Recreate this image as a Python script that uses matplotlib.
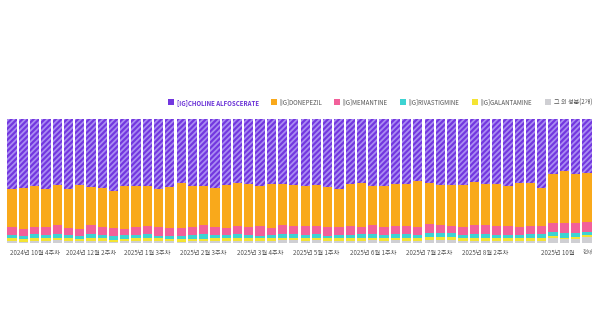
import matplotlib
matplotlib.use("Agg")
import matplotlib.pyplot as plt
from matplotlib.patches import Rectangle
import numpy as np

plt.rcParams['font.family'] = ['Noto Sans CJK KR', 'DejaVu Sans']
plt.rcParams['hatch.linewidth'] = 1.3

series_names = ["[IG]CHOLINE ALFOSCERATE", "[IG]DONEPEZIL", "[IG]MEMANTINE",
                "[IG]RIVASTIGMINE", "[IG]GALANTAMINE", "그 외 성분(2개)"]
colors = ["#7236DF", "#F9A91B", "#F2609A", "#3DD3D2", "#F4E433", "#CFCFD3"]

choline = [56.3, 55.8, 53.7, 56.3, 53.1, 56.3, 53.1, 54.7, 55.3, 57.7, 53.7, 53.7, 53.7,
           56.3, 54.7, 51.5, 53.7, 53.9, 55.5, 53.1, 51.5, 52.3, 53.9, 52.3, 52.3, 53.1,
           53.9, 53.1, 54.7, 56.3, 52.3, 51.5, 53.9, 53.9, 52.3, 52.3, 49.9, 51.7, 53.1,
           53.1, 52.9, 50.7, 52.1, 52.5, 53.7, 51.3, 51.7, 55.3, 44.0, 41.8, 44.5, 43.2]
donepezil = [31.0, 32.7, 33.1, 30.5, 32.3, 31.3, 35.3, 31.0, 32.0, 30.2, 34.8, 33.4, 32.6,
             30.7, 32.9, 36.1, 33.1, 31.5, 31.3, 34.5, 34.5, 34.5, 32.1, 35.3, 33.1, 33.1,
             32.7, 33.1, 32.3, 30.7, 34.0, 35.2, 31.5, 33.1, 34.0, 34.0, 36.9, 32.9, 32.6,
             33.1, 34.4, 34.8, 33.4, 33.7, 32.6, 35.6, 34.5, 31.0, 39.9, 42.0, 39.6, 39.6]
memantine = [6.2, 6.1, 6.1, 6.7, 7.0, 5.9, 5.9, 7.3, 6.2, 6.2, 5.1, 6.5, 6.7,
             7.0, 6.7, 6.5, 6.7, 7.3, 6.7, 5.9, 6.7, 6.7, 8.1, 5.9, 7.3, 6.7,
             6.8, 6.2, 7.0, 6.5, 7.2, 6.0, 7.5, 6.3, 6.8, 6.7, 6.7, 7.5, 6.5,
             5.9, 6.2, 7.3, 7.3, 7.5, 7.3, 6.5, 6.7, 6.5, 7.3, 8.3, 8.1, 8.1]
rivastigmine = [2.7, 2.2, 3.2, 2.7, 3.2, 2.7, 2.2, 3.2, 2.7, 3.2, 3.2, 2.7, 3.2,
                2.2, 2.2, 2.7, 3.2, 3.8, 2.7, 2.7, 3.2, 2.7, 2.2, 2.7, 3.2, 2.7,
                2.7, 3.2, 2.2, 2.7, 2.7, 3.2, 2.7, 2.7, 2.7, 3.0, 2.5, 3.2, 3.0,
                3.0, 2.7, 3.2, 3.0, 2.5, 2.7, 2.7, 3.0, 3.0, 3.5, 3.5, 3.2, 3.0]
galantamine = [2.2, 2.0, 2.2, 2.2, 2.0, 2.2, 2.0, 2.2, 2.2, 1.5, 1.8, 2.2, 2.2,
               2.2, 2.0, 2.0, 2.0, 2.0, 2.2, 2.2, 2.2, 2.2, 2.0, 2.2, 2.0, 2.2,
               2.2, 2.2, 2.0, 2.0, 2.0, 2.2, 2.2, 2.2, 2.0, 2.2, 2.2, 2.2, 2.2,
               2.2, 2.0, 2.2, 2.2, 2.0, 2.2, 2.0, 2.2, 2.2, 1.6, 1.3, 1.5, 1.5]
others = [1.6, 1.2, 1.7, 1.6, 2.4, 1.6, 1.5, 1.6, 1.6, 1.2, 1.4, 1.5, 1.6,
          1.6, 1.5, 1.2, 1.3, 1.5, 1.6, 1.6, 1.9, 1.6, 1.7, 1.6, 2.1, 2.2,
          1.7, 2.2, 1.8, 1.8, 1.8, 1.9, 2.2, 1.8, 2.2, 1.8, 1.8, 2.5, 2.6,
          2.7, 1.8, 1.8, 2.0, 1.8, 1.5, 1.9, 1.9, 2.0, 3.7, 3.1, 3.1, 4.6]

tick_idx = [2, 7, 12, 17, 22, 27, 32, 37, 42, 48.4]
tick_labels = ["2024년 10월 4주차", "2024년 12월 2주차", "2025년 1월 3주차", "2025년 2월 3주차",
               "2025년 3월 4주차", "2025년 5월 1주차", "2025년 6월 1주차", "2025년 7월 2주차",
               "2025년 8월 2주차", "2025년 10월"]
current_label = "현재"

data = np.array([choline, donepezil, memantine, rivastigmine, galantamine, others])
data = data / data.sum(axis=0) * 100
n = data.shape[1]
x = np.arange(n)

fig = plt.figure(figsize=(6, 3.36), dpi=100)
W, H = 600, 336
ax = fig.add_axes([7 / W, 1 - 243 / H, 585 / W, (243 - 119.3) / H])

bottom = np.zeros(n)
order = list(range(data.shape[0]))[::-1]
for i in order:
    vals = data[i]
    if i == 0:
        ax.bar(x, vals, bottom=bottom, width=0.82, color=colors[0], edgecolor="#A98BF2",
               hatch="//////", linewidth=0)
    else:
        ax.bar(x, vals, bottom=bottom, width=0.82, color=colors[i], linewidth=0)
    bottom += vals

ax.set_xlim(-0.45, n - 0.55)
ax.set_ylim(0, 100)
for s in ax.spines.values():
    s.set_visible(False)
ax.set_yticks([])
ax.set_xticks(tick_idx)
ax.set_xticklabels(tick_labels, fontsize=4.5, color="#555555")
ax.tick_params(axis="x", length=0, pad=4)
ax.text(n - 0.9, -4.5, current_label, fontsize=4.0, color="#777777", ha="center", va="top",
        transform=ax.transData)

# legend
leg_x = [168.3, 271, 334, 400, 472.3, 545]
for k, (lx, name) in enumerate(zip(leg_x, series_names)):
    fig.patches.append(Rectangle((lx / W, 1 - 105 / H), 5.5 / W, 5.5 / H, transform=fig.transFigure,
                                 facecolor=colors[k], edgecolor="none"))
    fig.text((lx + 8.5) / W, 1 - 102.2 / H, name, fontsize=4.4,
             color="#6A32D6" if k == 0 else "#555555",
             fontweight="bold" if k == 0 else "normal", va="center", ha="left")

fig.savefig("out.png", dpi=100, facecolor="white")
